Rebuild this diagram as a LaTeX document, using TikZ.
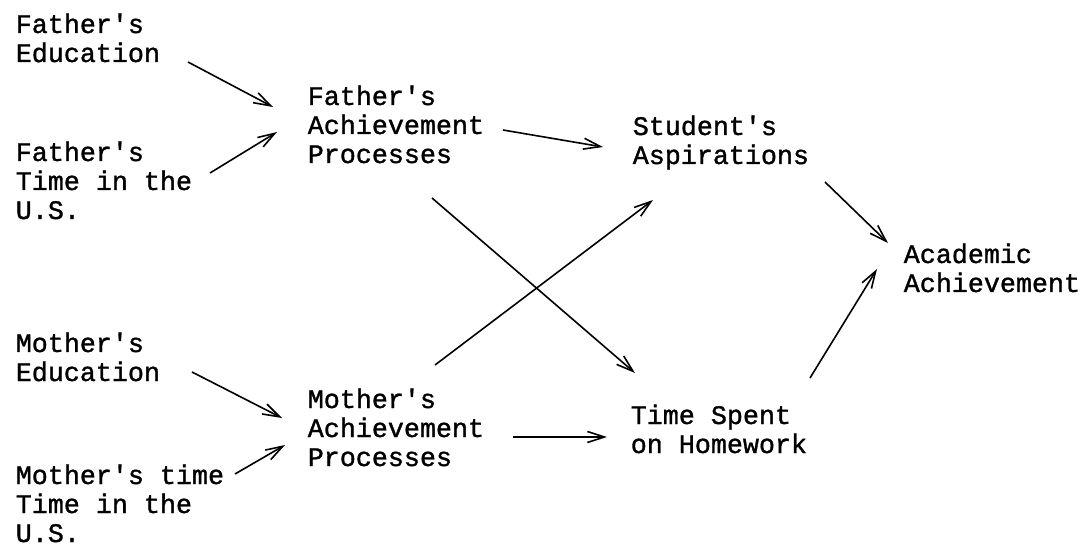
\documentclass[tikz,border=0pt]{standalone}
\usepackage{fontspec}
\newfontfamily\typefont[FakeBold=1.2]{Liberation Mono}
\usepackage{tikz}
\usetikzlibrary{positioning,arrows.meta}
\newcommand{\vartext}{\typefont\fontsize{26.7}{29}\selectfont}

\begin{document}
\begin{tikzpicture}[->,x=1pt,y=-1pt,line width=1.6pt,
      >={Straight Barb[length=17pt,width=11pt]},
      var/.style={font=\vartext,align=left,inner sep=0pt}]
      \useasboundingbox (0,0) rectangle (1085,548);
      % exogenous variables (base = last line)
      \node[var,anchor=base west] (fe) at (15,62) {Father's\\Education};
      \node[var,below=157pt of fe.base west,anchor=base west] (ft) {Father's\\Time in the\\U.S.};
      \node[var,below=319pt of fe.base west,anchor=base west] (me) {Mother's\\Education};
      \node[var,below=161pt of me.base west,anchor=base west] (mt) {Mother's time\\Time in the\\U.S.};
      % parents
      \node[var,below right=101pt and 292pt of fe.base west,anchor=base west] (fap) {Father's\\Achievement\\Processes};
      \node[var,below=303pt of fap.base west,anchor=base west] (map) {Mother's\\Achievement\\Processes};
      % student
      \node[var,below right=1pt and 325pt of fap.base west,anchor=base west] (sa) {Student's\\Aspirations};
      \node[var,below left=289pt and 2pt of sa.base west,anchor=base west] (tsh) {Time Spent\\on Homework};
      \node[var,below right=128pt and 271pt of sa.base west,anchor=base west] (aa) {Academic\\Achievement};
      \path
        ([shift={(173,0)}]fe.base west) edge ([shift={(-34,-56)}]fap.base west)
        ([shift={(195,-46)}]ft.base west) edge ([shift={(-30,-31)}]fap.base west)
        ([shift={(177,-9)}]me.base west) edge ([shift={(-25,-48)}]map.base west)
        ([shift={(220,-68)}]mt.base west) edge ([shift={(-22,-21)}]map.base west)
        ([shift={(196,-33)}]fap.base west) edge ([shift={(-29,-17)}]sa.base west)
        ([shift={(125,35)}]fap.base west) edge ([shift={(5,-80)}]tsh.base west)
        ([shift={(128,-101)}]map.base west) edge ([shift={(21,36)}]sa.base west)
        ([shift={(206,-29)}]map.base west) edge ([shift={(-23,-16)}]tsh.base west)
        ([shift={(193,18)}]sa.base west) edge ([shift={(-15,-49)}]aa.base west)
        ([shift={(180,-75)}]tsh.base west) edge ([shift={(-26,-23)}]aa.base west);
\end{tikzpicture}
\end{document}
